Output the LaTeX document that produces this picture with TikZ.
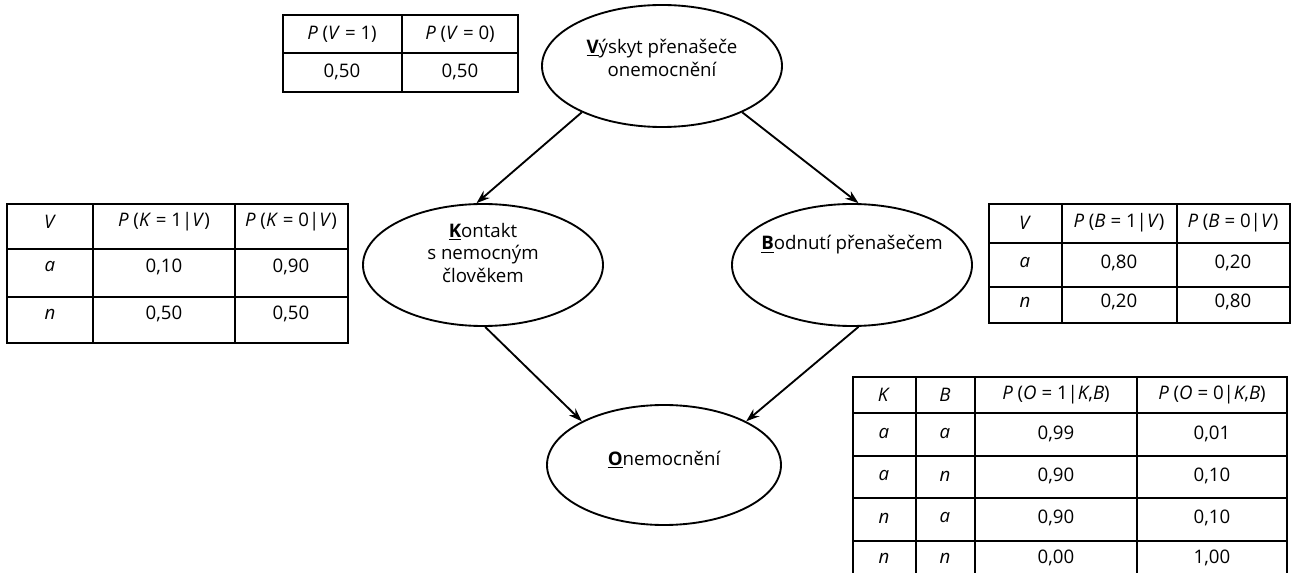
\documentclass[tikz,border=0pt]{standalone}
\usepackage{fontspec}
\setmainfont{Open Sans}
\usetikzlibrary{shapes.geometric,arrows.meta}
\tikzset{
  bubble/.style={draw, ellipse, line width=1.4pt, inner sep=0pt},
  tab/.style={line width=1.4pt},
  link/.style={line width=1.4pt, -{Stealth[length=10pt,width=7pt]}},
}
\newcommand{\firstl}[1]{\underline{\textbf{#1}}}
\begin{document}
\begin{tikzpicture}[x=0.75pt, y=-0.75pt, font=\fontsize{14}{17}\selectfont]
\useasboundingbox (0,0) rectangle (1293,573);

% network
\node[bubble, minimum width=180pt, minimum height=91.5pt,
  label={[align=center, yshift=6pt]center:{\firstl{V}ýskyt přenašeče\\onemocnění}}] (V) at (662,66) {};
\node[bubble, minimum width=180pt, minimum height=91.5pt,
  label={[align=center, yshift=9pt]center:{\firstl{K}ontakt\\s nemocným\\člověkem}}] (K) at (483,265) {};
\node[bubble, minimum width=180pt, minimum height=91.5pt,
  label={[yshift=15pt]center:{\firstl{B}odnutí přenašečem}}] (B) at (852,265) {};
\node[bubble, minimum width=175.5pt, minimum height=90pt,
  label={[yshift=4pt]center:{\firstl{O}nemocnění}}] (O) at (664,465) {};

\draw[link] (V.210) -- (K.96);
\draw[link] (V.330) -- (B.84);
\draw[link] (K.272) -- (O.152);
\draw[link] (B.276) -- (O.28);

% table V
\draw[tab] (283,15) rectangle (518,92);
\draw[tab] (402,15) -- (402,92) (283,53) -- (518,53);
\node at (342,34) {\textit{P} (\textit{V} = 1)};
\node at (460,34) {\textit{P} (\textit{V} = 0)};
\node at (342,72) {0,50};
\node at (460,72) {0,50};

% table K
\draw[tab] (7,204) rectangle (348,343);
\foreach \x in {93,235} \draw[tab] (\x,204) -- (\x,343);
\foreach \y in {249,297} \draw[tab] (7,\y) -- (348,\y);
\node at (50,222) {\textit{V}};
\node at (164,222) {\textit{P} (\textit{K} = 1|\textit{V})};
\node at (291,222) {\textit{P} (\textit{K} = 0|\textit{V})};
\node at (50,267) {\textit{a}};
\node at (164,267) {0,10};
\node at (291,267) {0,90};
\node at (50,314) {\textit{n}};
\node at (164,314) {0,50};
\node at (291,314) {0,50};

% table B
\draw[tab] (989,204) rectangle (1290,323);
\foreach \x in {1062,1177} \draw[tab] (\x,204) -- (\x,323);
\foreach \y in {243,287} \draw[tab] (989,\y) -- (1290,\y);
\node at (1025,223) {\textit{V}};
\node at (1119,223) {\textit{P} (\textit{B} = 1|\textit{V})};
\node at (1233,223) {\textit{P} (\textit{B} = 0|\textit{V})};
\node at (1025,263) {\textit{a}};
\node at (1119,263) {0,80};
\node at (1233,263) {0,20};
\node at (1025,302) {\textit{n}};
\node at (1119,302) {0,20};
\node at (1233,302) {0,80};

% table O
\draw[tab] (853,573) -- (853,377) -- (1287,377) -- (1287,573);
\foreach \x in {916,975,1137} \draw[tab] (\x,377) -- (\x,573);
\foreach \y in {413,456,498,541} \draw[tab] (853,\y) -- (1287,\y);
\node at (884,395) {\textit{K}};
\node at (945,395) {\textit{B}};
\node at (1056,395) {\textit{P} (\textit{O} = 1|\textit{K},\textit{B})};
\node at (1212,395) {\textit{P} (\textit{O} = 0|\textit{K},\textit{B})};
\node at (884,434) {\textit{a}};
\node at (945,434) {\textit{a}};
\node at (1056,434) {0,99};
\node at (1212,434) {0,01};
\node at (884,476) {\textit{a}};
\node at (945,476) {\textit{n}};
\node at (1056,476) {0,90};
\node at (1212,476) {0,10};
\node at (884,518) {\textit{n}};
\node at (945,518) {\textit{a}};
\node at (1056,518) {0,90};
\node at (1212,518) {0,10};
\node at (884,558) {\textit{n}};
\node at (945,558) {\textit{n}};
\node at (1056,558) {0,00};
\node at (1212,558) {1,00};

\end{tikzpicture}
\end{document}
